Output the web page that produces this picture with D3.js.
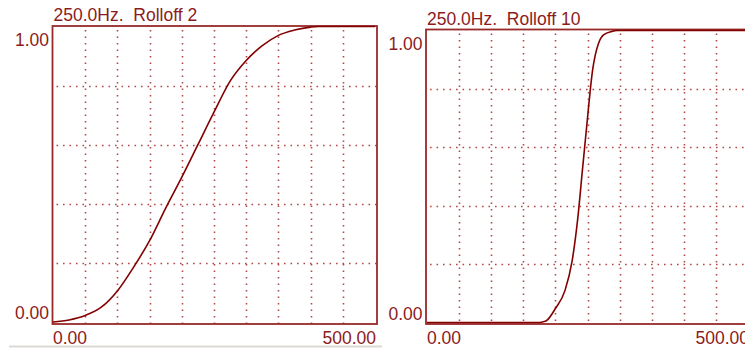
<!DOCTYPE html>
<html>
<head>
<meta charset="utf-8">
<script src="https://cdn.jsdelivr.net/npm/d3@7"></script>
<style>
  html, body { margin: 0; padding: 0; background: #ffffff; }
  svg { display: block; }
  text { font-family: "Liberation Sans", Arial, sans-serif; fill: #8c1c1c; white-space: pre; }
</style>
</head>
<body>
<svg id="chart" width="745" height="350"></svg>
<script>
// Filter response for a 250 Hz crossover at two rolloff settings
const titles = ["250.0Hz.  Rolloff 2", "250.0Hz.  Rolloff 10"];
const xTickLabels = ["0.00", "500.00"];
const yTickLabels = ["0.00", "1.00"];
const xGridValues = [50, 100, 150, 200, 250, 300, 350, 400, 450];
const yGridValues = [0.2, 0.4, 0.6, 0.8];

// Rolloff 2: frequency (Hz) and gain
const freqRolloff2 = [0, 25, 50, 75, 100, 125, 150, 175, 200, 225, 250, 275, 300, 325, 350, 375, 400, 412, 500];
const gainRolloff2 = [0, 0.007, 0.022, 0.05, 0.105, 0.185, 0.275, 0.385, 0.49, 0.6, 0.71, 0.815, 0.885, 0.935, 0.97, 0.988, 0.998, 1, 1];

// Rolloff 10: frequency (Hz) and gain
const freqRolloff10 = [0, 172, 180, 186, 200, 215, 226, 235, 242, 246, 250, 254, 258, 262, 267, 275, 288, 296, 500];
const gainRolloff10 = [0, 0, 0.002, 0.006, 0.048, 0.11, 0.21, 0.36, 0.52, 0.61, 0.70, 0.79, 0.865, 0.915, 0.955, 0.985, 0.997, 1, 1];

const frameColor = "#9a2a2a";
const gridColor = "#b24848";
const lineColor = "#820000";

const svg = d3.select("#chart");

// Window edge line under the left panel
svg.append("line")
  .attr("x1", 9).attr("x2", 382).attr("y1", 346.5).attr("y2", 346.5)
  .attr("stroke", "#dcdad2").attr("stroke-width", 2);

const panels = [
  { title: titles[0], freq: freqRolloff2, gain: gainRolloff2,
    frame: { x0: 52.5, x1: 377, y0: 26, y1: 324 },
    xr: [53, 375], yr: [322, 26.5], titleY: 20.5, xLabelY: 343.5 },
  { title: titles[1], freq: freqRolloff10, gain: gainRolloff10,
    frame: { x0: 426, x1: 750, y0: 29.5, y1: 324 },
    xr: [427, 748], yr: [322.5, 30.5], titleY: 25, xLabelY: 344 }
];

panels.forEach(p => {
  const g = svg.append("g");
  const x = d3.scaleLinear().domain([0, 500]).range(p.xr);
  const y = d3.scaleLinear().domain([0, 1]).range(p.yr);
  const f = p.frame;

  // dotted grid
  g.selectAll(".vgrid").data(xGridValues).join("line")
    .attr("x1", d => Math.round(x(d)) + 0.5).attr("x2", d => Math.round(x(d)) + 0.5)
    .attr("y1", f.y0 + 4).attr("y2", f.y1)
    .attr("stroke", gridColor).attr("stroke-width", 1.6)
    .attr("stroke-dasharray", "1.6,4.9");
  g.selectAll(".hgrid").data(yGridValues).join("line")
    .attr("x1", f.x0 + 4).attr("x2", f.x1)
    .attr("y1", d => Math.round(y(d)) + 0.5).attr("y2", d => Math.round(y(d)) + 0.5)
    .attr("stroke", gridColor).attr("stroke-width", 1.6)
    .attr("stroke-dasharray", "1.6,4.9");

  // frame
  g.append("rect")
    .attr("x", f.x0).attr("y", f.y0)
    .attr("width", f.x1 - f.x0).attr("height", f.y1 - f.y0)
    .attr("fill", "none").attr("stroke", frameColor).attr("stroke-width", 1.8);

  // response curve
  const line = d3.line()
    .x((d, i) => x(p.freq[i]))
    .y(d => y(d))
    .curve(d3.curveMonotoneX);
  g.append("path")
    .attr("d", line(p.gain))
    .attr("fill", "none").attr("stroke", lineColor).attr("stroke-width", 1.6);

  // labels
  g.append("text").attr("x", f.x0 + 1).attr("y", p.titleY)
    .attr("font-size", 17.5).text(p.title);
  g.append("text").attr("x", f.x0 - 3.5).attr("y", y(1) + 19.5)
    .attr("text-anchor", "end").attr("font-size", 17.5).text(yTickLabels[1]);
  g.append("text").attr("x", f.x0 - 3.5).attr("y", y(0) - 3)
    .attr("text-anchor", "end").attr("font-size", 17.5).text(yTickLabels[0]);
  g.append("text").attr("x", x(0)).attr("y", p.xLabelY)
    .attr("font-size", 17.5).text(xTickLabels[0]);
  g.append("text").attr("x", x(500) + 1).attr("y", p.xLabelY)
    .attr("text-anchor", "end").attr("font-size", 17.5).text(xTickLabels[1]);
});
</script>
</body>
</html>
